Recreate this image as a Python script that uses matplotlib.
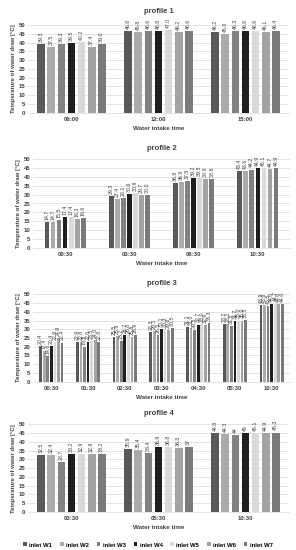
import matplotlib
matplotlib.use("Agg")
import matplotlib.pyplot as plt
import numpy as np

plt.rcParams['font.family'] = ['Liberation Sans', 'DejaVu Sans']

series = ["inlet W1", "inlet W2", "inlet W3", "inlet W4", "inlet W5", "inlet W6", "inlet W7"]
colors = ["#595959", "#ababab", "#828282", "#1f1f1f", "#d9d9d9", "#a3a3a3", "#7a7a7a"]

p1_times = ["06:00", "12:00", "15:00"]
p1_vals = [
    [39.3, 46.8, 46.2],
    [37.5, 45.8, 45.0],
    [39.3, 46.6, 46.3],
    [39.5, 46.8, 46.6],
    [40.2, 47.0, 46.6],
    [37.4, 46.2, 46.1],
    [39.0, 46.6, 46.4],
]
p1_labels = [
    ["39.3", "46.8", "46.2"],
    ["37.5", "45.8", "45.0"],
    ["39.3", "46.6", "46.3"],
    ["39.5", "46.8", "46.6"],
    ["40.2", "47.0", "46.6"],
    ["37.4", "46.2", "46.1"],
    ["39.0", "46.6", "46.4"],
]

p2_times = ["00:30", "03:30", "06:30", "10:30"]
p2_vals = [
    [14.7, 29.3, 36.8, 43.4],
    [14.7, 27.4, 36.9, 43.6],
    [15.5, 28.1, 37.5, 44.2],
    [17.4, 30.6, 39.2, 44.9],
    [17.4, 30.9, 39.5, 45.1],
    [16.3, 29.7, 38.9, 44.7],
    [16.6, 30.0, 38.8, 44.9],
]

p3_times = ["00:30", "01:30", "02:30", "03:30", "04:30", "05:30", "10:30"]
p3_vals = [
    [20.4, 22.9, 25.5, 28.3, 31.1, 33.2, 43.9],
    [17.4, 22.8, 25.9, 29.1, 31.0, 33.1, 43.6],
    [14.6, 19.6, 23.2, 26.5, 29.5, 31.8, 43.5],
    [20.4, 22.6, 26.7, 30.1, 32.7, 34.7, 44.6],
    [22.9, 23.5, 26.8, 30.3, 33.0, 35.0, 44.7],
    [24.8, 24.0, 25.8, 29.6, 32.6, 35.0, 44.6],
    [22.4, 22.8, 26.9, 30.5, 33.3, 35.5, 44.6],
]

p4_times = ["03:30", "05:30", "10:30"]
p4_vals = [
    [32.5, 35.9, 44.8],
    [32.4, 35.4, 44.3],
    [28.7, 33.4, 44.0],
    [33.2, 36.9, 45.0],
    [32.9, 36.8, 45.1],
    [32.9, 36.5, 44.9],
    [33.2, 37.0, 45.3],
]
p4_labels = [
    ["32.5", "35.9", "44.8"],
    ["32.4", "35.4", "44.3"],
    ["28.7", "33.4", "44"],
    ["33.2", "36.9", "45"],
    ["32.9", "36.8", "45.1"],
    ["32.9", "36.5", "44.9"],
    ["33.2", "37", "45.3"],
]

W, H = 296, 550
fig = plt.figure(figsize=(W / 100, H / 100), dpi=100)

def fmt(v):
    return f"{v:.1f}"

def panel(title, times, vals, labels, box, group, tpad):
    x0, ytop, x1, ybot = box
    ax = fig.add_axes([x0 / W, 1 - ybot / H, (x1 - x0) / W, (ybot - ytop) / H])
    n = len(times)
    x = np.arange(n)
    slot = group / 7
    for i in range(7):
        pos = x - group / 2 + slot * (i + 0.5)
        bars = ax.bar(pos, vals[i], width=slot * 0.78, color=colors[i], zorder=3, label=series[i])
        labs = labels[i] if labels is not None else [fmt(v) for v in vals[i]]
        for b, t in zip(bars, labs):
            ax.annotate(t, (b.get_x() + b.get_width() / 2, b.get_height()),
                        xytext=(0, 1.5), textcoords="offset points",
                        rotation=90, ha="center", va="bottom", fontsize=3.8,
                        color="#404040", annotation_clip=False)
    ax.set_xlim(-0.5, n - 0.5)
    ax.set_ylim(0, 50)
    ax.set_yticks(np.arange(0, 51, 5))
    ax.set_xticks(x)
    ax.set_xticklabels(times, fontsize=4.3, fontweight="bold", color="#404040")
    ax.tick_params(axis="y", labelsize=4.3, length=0, pad=2, labelcolor="#404040")
    for lab in ax.get_yticklabels():
        lab.set_fontweight("bold")
    ax.tick_params(axis="x", length=0, pad=3)
    ax.grid(axis="y", color="#d9d9d9", linewidth=0.5, zorder=0)
    for s in ["top", "right", "left"]:
        ax.spines[s].set_visible(False)
    ax.spines["bottom"].set_color("#d9d9d9")
    ax.spines["bottom"].set_linewidth(0.5)
    ax.set_title(title, fontsize=5.5, fontweight="bold", color="#404040", pad=tpad)
    ax.set_xlabel("Water intake time", fontsize=4.5, fontweight="bold", color="#404040", labelpad=3)
    ax.set_ylabel("Temperature of water draw [°C]", fontsize=4.3, fontweight="bold", color="#404040", labelpad=2)
    return ax

panel("profile 1", p1_times, p1_vals, p1_labels, (28, 25, 289, 112.7), 0.81, 8.5)
panel("profile 2", p2_times, p2_vals, None, (33, 159.3, 290, 247.7), 0.66, 6.5)
panel("profile 3", p3_times, p3_vals, None, (33, 294.3, 290, 381.7), 0.68, 7)
ax4 = panel("profile 4", p4_times, p4_vals, p4_labels, (28, 424.3, 289, 512), 0.81, 6.5)

handles, labs = ax4.get_legend_handles_labels()
fig.legend(handles, labs, loc="center", bbox_to_anchor=(0.5, 1 - 545 / H), ncol=7,
           frameon=False, handlelength=0.6, handleheight=0.6,
           handletextpad=0.4, columnspacing=1.3,
           prop={"weight": "bold", "size": 4.3})

fig.savefig("out.png", dpi=100)
